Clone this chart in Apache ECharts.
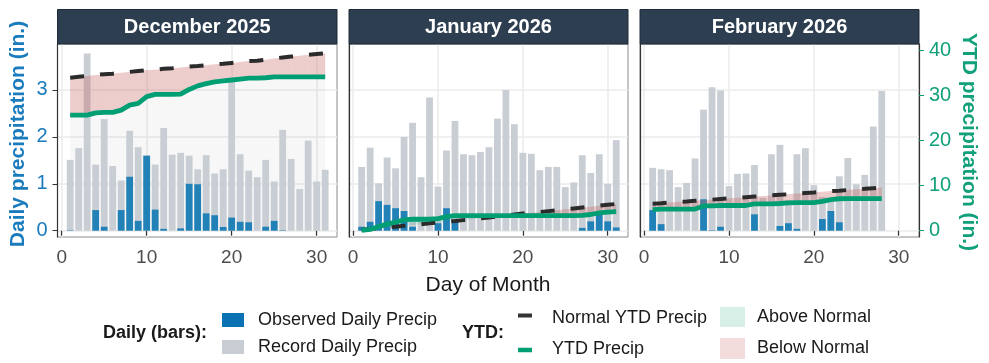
<!DOCTYPE html>
<html><head><meta charset="utf-8">
<script src="https://cdn.jsdelivr.net/npm/echarts@6/dist/echarts.min.js"></script>
<style>html,body{margin:0;padding:0;background:#fff}#c{width:989px;height:363px}</style>
</head><body><div id="c"></div>
<script>
const panelTitles = ['December 2025', 'January 2026', 'February 2026'];

const decRecord   = [1.51,1.76,3.78,1.41,2.38,1.38,1.07,2.13,1.78,1.60,1.41,2.19,1.62,1.66,1.60,1.31,1.61,1.22,1.31,3.20,1.63,1.28,1.14,1.51,1.05,2.15,1.53,0.89,1.92,1.05,1.30];
const decObserved = [0.01,0,0,0.44,0.085,0,0.44,1.15,0.21,1.60,0.45,0.04,0,0.05,1.00,0.99,0.37,0.33,0.08,0.28,0.19,0.18,0,0.085,0.21,0.01,0,0,0,0,0];
const decYtd      = [25.7,25.7,25.7,26.2,26.3,26.3,26.8,27.9,28.3,29.8,30.3,30.3,30.3,30.35,31.4,32.2,32.7,33.1,33.3,33.5,33.7,33.9,33.9,34.0,34.2,34.2,34.2,34.2,34.2,34.2,34.2];
const decNormal   = [34.0,34.2,34.4,34.6,34.8,34.9,35.1,35.3,35.5,35.7,35.8,36.0,36.1,36.3,36.5,36.6,36.8,37.0,37.1,37.3,37.5,37.7,37.8,38.0,38.3,38.5,38.7,38.9,39.1,39.3,39.4];

const janRecord   = [1.36,1.77,1.01,1.56,1.33,2.00,2.30,1.14,2.84,0.94,1.71,2.34,1.63,1.61,1.68,1.78,2.39,3.00,2.27,1.66,1.64,1.29,1.36,1.36,0.93,1.03,1.61,1.23,1.63,1.00,1.93];
const janObserved = [0.085,0.19,0.63,0.55,0.48,0.42,0.085,0,0,0.16,0.48,0.19,0,0,0,0,0,0,0,0,0,0,0,0,0,0,0.06,0.20,0.38,0.20,0.07];
const janYtd      = [0.09,0.28,0.9,1.45,1.93,2.4,2.55,2.55,2.55,2.7,3.15,3.35,3.35,3.35,3.35,3.35,3.35,3.35,3.35,3.35,3.35,3.35,3.35,3.35,3.35,3.35,3.4,3.6,3.95,4.15,4.25];
const janNormal   = [0.18,0.37,0.55,0.72,0.9,1.1,1.28,1.45,1.65,1.85,2.0,2.15,2.35,2.55,2.75,2.95,3.15,3.35,3.58,3.8,4.0,4.15,4.35,4.55,4.75,4.95,5.15,5.35,5.55,5.75,5.95];

const febRecord   = [1.34,1.31,1.29,0.93,1.02,1.54,2.58,3.06,2.99,0.95,1.21,1.22,1.40,0.70,1.63,1.83,0.65,1.63,1.76,0.97,0.72,0.68,1.16,1.55,0.99,1.19,2.22,2.98];
const febObserved = [0.44,0.14,0,0,0,0,0.67,0.01,0.085,0,0,0,0.35,0,0,0.10,0.16,0.04,0,0,0.25,0.42,0.18,0,0,0,0,0];
const febYtd      = [4.7,4.8,4.8,4.8,4.8,4.8,5.5,5.5,5.6,5.6,5.6,5.6,5.95,5.95,5.95,6.05,6.2,6.25,6.25,6.25,6.5,6.9,7.1,7.15,7.15,7.15,7.15,7.15];
const febNormal   = [6.0,6.1,6.25,6.4,6.5,6.65,6.8,6.9,7.05,7.2,7.3,7.45,7.6,7.7,7.85,8.0,8.1,8.25,8.4,8.5,8.65,8.8,8.9,9.05,9.2,9.3,9.45,9.6];

const xTicks = [0, 10, 20, 30];
const dailyTicks = [0, 1, 2, 3];
const ytdTicks = [0, 10, 20, 30, 40];

const panelData = [
  {record: decRecord, observed: decObserved, ytd: decYtd, normal: decNormal},
  {record: janRecord, observed: janObserved, ytd: janYtd, normal: janNormal},
  {record: febRecord, observed: febObserved, ytd: febYtd, normal: febNormal}
];

const FONT = '"Liberation Sans", Arial, Helvetica, sans-serif';
const BLUE_TXT = '#1a7bbd';
const GREEN = '#009E73';
const GREEN_TXT = '#12a07a';
const PINK_FILL = 'rgba(200,100,100,0.33)';
const MINT_FILL = 'rgba(0,158,115,0.15)';
const layout = [{left: 57.5, width: 279.5}, {left: 349, width: 279}, {left: 640, width: 279}];
const TOP = 44, HEIGHT = 193;

function ribbonRender(kind, color) {
  return function (params, api) {
    const x0 = api.value(0), x1 = api.value(1);
    const a0 = api.value(2), a1 = api.value(3);   // ytd
    const b0 = api.value(4), b1 = api.value(5);   // normal
    const d0 = kind === 'below' ? b0 - a0 : a0 - b0;
    const d1 = kind === 'below' ? b1 - a1 : a1 - b1;
    let pts;
    if (d0 <= 0 && d1 <= 0) return null;
    if (d0 >= 0 && d1 >= 0) {
      pts = [[x0, a0], [x1, a1], [x1, b1], [x0, b0]];
    } else {
      const t = d0 / (d0 - d1);
      const xc = x0 + t * (x1 - x0), yc = a0 + t * (a1 - a0);
      pts = d0 > 0 ? [[x0, a0], [xc, yc], [x0, b0]] : [[xc, yc], [x1, a1], [x1, b1]];
    }
    return {type: 'polygon', shape: {points: pts.map(p => api.coord(p))}, style: {fill: color}};
  };
}
function underRender(params, api) {
  const x0 = api.value(0), x1 = api.value(1), a0 = api.value(2), a1 = api.value(3);
  const pts = [[x0, 0], [x0, a0], [x1, a1], [x1, 0]].map(p => api.coord(p));
  return {type: 'polygon', shape: {points: pts}, style: {fill: 'rgba(0,0,0,0.03)'}};
}

const grids = [], xAxes = [], yAxes = [], series = [], graphics = [];

layout.forEach((g, i) => {
  grids.push({left: g.left, top: TOP, width: g.width, height: HEIGHT, show: true,
    borderColor: '#8c8c8c', borderWidth: 1, backgroundColor: '#fff', containLabel: false});
  xAxes.push({type: 'value', gridIndex: i, min: -0.49, max: 32.39,
    axisLine: {show: false},
    axisTick: {show: true, customValues: xTicks, length: 5, lineStyle: {color: '#333', width: 1.2}},
    axisLabel: {customValues: xTicks, fontSize: 19, color: '#4d4d4d', margin: 11, fontFamily: FONT},
    splitLine: {show: true, lineStyle: {color: '#ebebeb', width: 1.5}}
  });
  yAxes.push({type: 'value', gridIndex: i, position: 'left', min: -0.134, max: 3.98,
    axisLine: {show: true, onZero: false, lineStyle: {color: '#333', width: 1.2}},
    axisTick: {show: i === 0, customValues: dailyTicks, length: 5, lineStyle: {color: '#333'}},
    axisLabel: {show: i === 0, customValues: dailyTicks, fontSize: 20, color: BLUE_TXT, margin: 10, fontFamily: FONT},
    splitLine: {show: true, lineStyle: {color: '#ebebeb', width: 1.5}}
  });
  yAxes.push({type: 'value', gridIndex: i, position: 'right', min: -1.4, max: 41.5,
    axisLine: {show: i === 2, onZero: false, lineStyle: {color: '#333', width: 1.2}},
    axisTick: {show: i === 2, customValues: ytdTicks, length: 5, lineStyle: {color: GREEN}},
    axisLabel: {show: i === 2, customValues: ytdTicks, fontSize: 20, color: GREEN_TXT, margin: 10, fontFamily: FONT},
    splitLine: {show: false}
  });

  const d = panelData[i];
  const pts = arr => arr.map((v, k) => [k + 1, v]);
  const segs = [];
  for (let k = 0; k < d.ytd.length - 1; k++) {
    segs.push([k + 1, k + 2, d.ytd[k], d.ytd[k + 1], d.normal[k], d.normal[k + 1]]);
  }
  const cu = {type: 'custom', xAxisIndex: i, yAxisIndex: 2 * i + 1, data: segs, silent: true,
    encode: {x: [0, 1], y: [2, 3, 4, 5]}, clip: true};

  series.push(Object.assign({}, cu, {renderItem: underRender, z: 1}));
  series.push({type: 'bar', xAxisIndex: i, yAxisIndex: 2 * i, data: pts(d.record), barWidth: 6.8,
    itemStyle: {color: '#c9ced4'}, silent: true, z: 2});
  series.push({type: 'bar', xAxisIndex: i, yAxisIndex: 2 * i, data: pts(d.observed), barWidth: 6.8, barGap: '-100%',
    itemStyle: {color: 'rgba(0,114,178,0.83)'}, silent: true, z: 3});
  series.push(Object.assign({}, cu, {renderItem: ribbonRender('below', PINK_FILL), z: 4}));
  series.push(Object.assign({}, cu, {renderItem: ribbonRender('above', MINT_FILL), z: 4}));
  const li = {xAxisIndex: i, yAxisIndex: 2 * i + 1, type: 'line', showSymbol: false, symbol: 'none', silent: true};
  series.push(Object.assign({}, li, {data: pts(d.normal), lineStyle: {color: '#2b2b2b', width: 4, type: [14, 16]}, z: 5}));
  series.push(Object.assign({}, li, {data: pts(d.ytd), lineStyle: {color: GREEN, width: 4.8}, z: 6}));

  graphics.push({type: 'rect', shape: {x: g.left, y: 9.5, width: g.width, height: 34.5},
    style: {fill: '#2c3e50', stroke: '#1f2b38', lineWidth: 1}, z: 10});
  graphics.push({type: 'text', x: g.left + g.width / 2, y: 27.5,
    style: {text: panelTitles[i], fill: '#fff', font: 'bold 20px ' + FONT, align: 'center', verticalAlign: 'middle'}, z: 11});
});

const txt = (text, x, y, opts) => Object.assign({type: 'text', x: x, y: y,
  style: Object.assign({text: text, fill: '#1a1a1a', font: '18px ' + FONT, align: 'left', verticalAlign: 'middle'}, opts || {})});

graphics.push(Object.assign(txt('Daily precipitation (in.)', 18, 134,
  {fill: BLUE_TXT, font: 'bold 21px ' + FONT, align: 'center'}), {rotation: Math.PI / 2}));
graphics.push(Object.assign(txt('YTD precipitation (in.)', 969, 142,
  {fill: GREEN_TXT, font: 'bold 21px ' + FONT, align: 'center'}), {rotation: -Math.PI / 2}));
graphics.push(txt('Day of Month', 488, 285, {font: '21px ' + FONT, align: 'center'}));

// legend
graphics.push(txt('Daily (bars):', 103, 333, {font: 'bold 18px ' + FONT}));
graphics.push({type: 'rect', shape: {x: 222, y: 313, width: 22, height: 14}, style: {fill: '#0a71b3'}});
graphics.push(txt('Observed Daily Precip', 258, 320));
graphics.push({type: 'rect', shape: {x: 222, y: 340, width: 22, height: 14}, style: {fill: '#c8cdd3'}});
graphics.push(txt('Record Daily Precip', 258, 347));
graphics.push(txt('YTD:', 462, 333, {font: 'bold 18px ' + FONT}));
graphics.push({type: 'line', shape: {x1: 518, y1: 315.5, x2: 532, y2: 315.5}, style: {stroke: '#333', lineWidth: 4}});
graphics.push(txt('Normal YTD Precip', 552, 318));
graphics.push({type: 'line', shape: {x1: 518, y1: 350, x2: 532, y2: 350}, style: {stroke: GREEN, lineWidth: 4.5}});
graphics.push(txt('YTD Precip', 552, 349));
graphics.push({type: 'rect', shape: {x: 720, y: 307, width: 25, height: 20}, style: {fill: '#d7efe7'}});
graphics.push(txt('Above Normal', 757, 317));
graphics.push({type: 'rect', shape: {x: 720, y: 338, width: 25, height: 21}, style: {fill: '#f2dcdc'}});
graphics.push(txt('Below Normal', 757, 348));

const chart = echarts.init(document.getElementById('c'), null, {renderer: 'canvas'});
chart.setOption({
  animation: false,
  backgroundColor: '#fff',
  textStyle: {fontFamily: FONT},
  grid: grids, xAxis: xAxes, yAxis: yAxes, series: series, graphic: graphics
});
</script></body></html>
